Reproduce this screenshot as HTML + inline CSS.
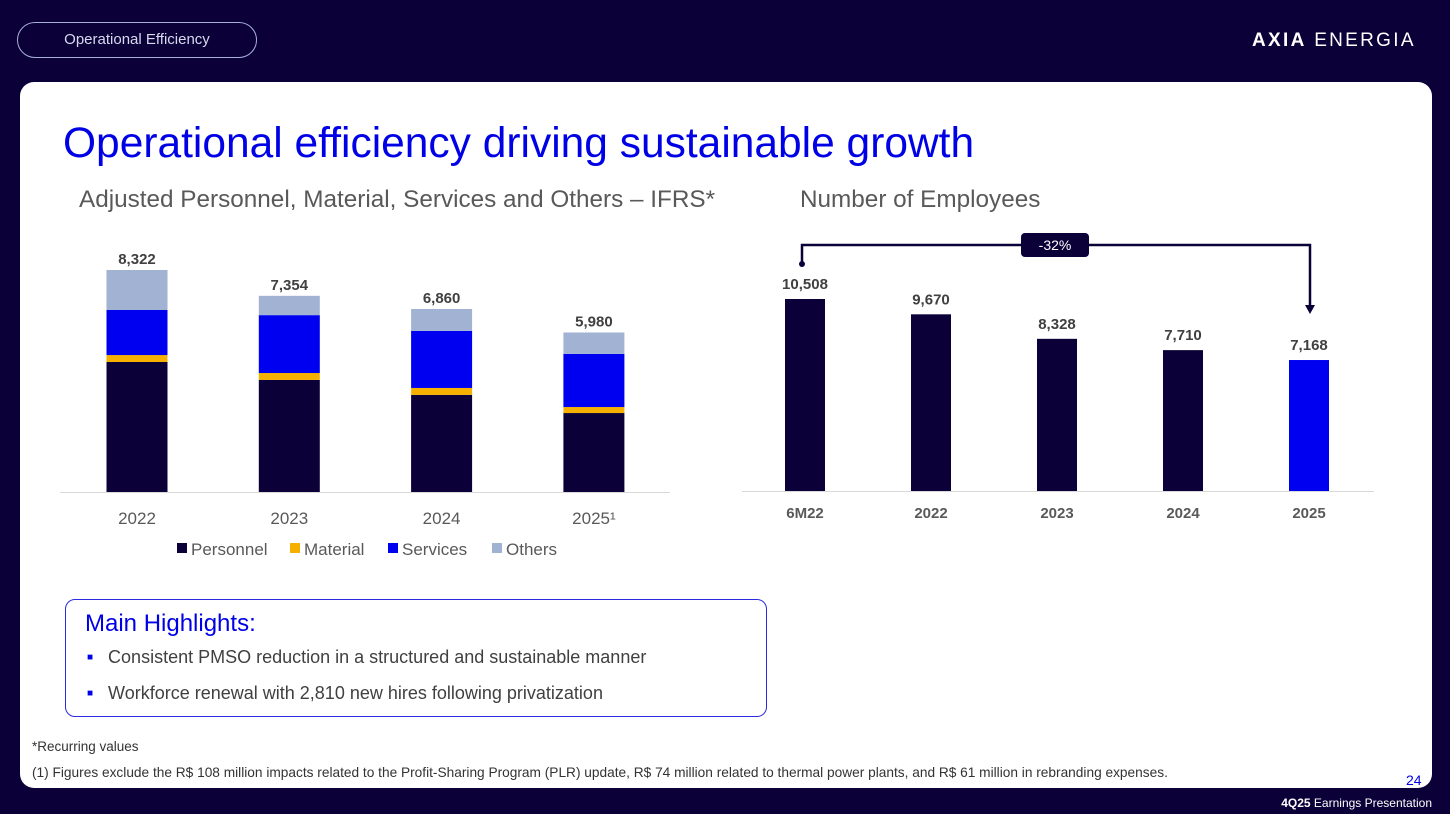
<!DOCTYPE html>
<html><head><meta charset="utf-8"><style>
body{margin:0;width:1450px;height:814px;background:#0b0037;font-family:"Liberation Sans",sans-serif;position:relative;overflow:hidden}
.abs{position:absolute;white-space:nowrap}
</style></head><body>
<div class="abs" style="left:17px;top:22px;width:238px;height:34px;border:1.5px solid #a8b0d8;border-radius:18px;color:#d6d9ef;font-size:15px;line-height:34px;text-align:center">Operational Efficiency</div>
<div class="abs" style="left:1252px;top:30px;color:#fff;font-size:19px;letter-spacing:2.3px"><b>AXIA</b> ENERGIA</div>
<div class="abs" style="left:20px;top:82px;width:1412px;height:706px;background:#fff;border-radius:14px"></div>
<div class="abs" style="left:63px;top:120px;color:#0000e6;font-size:42.5px">Operational efficiency driving sustainable growth</div>
<div class="abs" style="left:79px;top:186px;color:#595959;font-size:24.3px">Adjusted Personnel, Material, Services and Others – IFRS*</div>
<div class="abs" style="left:800px;top:186px;color:#595959;font-size:24.3px">Number of Employees</div>
<svg class="abs" style="left:0;top:0" width="1450" height="814" id="svg"></svg>
<div class="abs" style="left:65px;top:599px;width:700px;height:116px;border:1.5px solid #2a2ae0;border-radius:10px"></div>
<div class="abs" style="left:85px;top:610px;color:#0000e6;font-size:24px">Main Highlights:</div>
<div class="abs" style="left:87px;top:647px;color:#404040;font-size:18px"><span style="color:#0000e6;font-size:10px;vertical-align:3px">■</span>&nbsp;&nbsp;&nbsp;Consistent PMSO reduction in a structured and sustainable manner</div>
<div class="abs" style="left:87px;top:683px;color:#404040;font-size:18px"><span style="color:#0000e6;font-size:10px;vertical-align:3px">■</span>&nbsp;&nbsp;&nbsp;Workforce renewal with 2,810 new hires following privatization</div>
<div class="abs" style="left:32px;top:739px;color:#333;font-size:13.5px">*Recurring values</div>
<div class="abs" style="left:32px;top:765px;color:#333;font-size:13.7px">(1) Figures exclude the R$ 108 million impacts related to the Profit-Sharing Program (PLR) update, R$ 74 million related to thermal power plants, and R$ 61 million in rebranding expenses.</div>
<div class="abs" style="left:1406px;top:772px;color:#0000e6;font-size:14px">24</div>
<div class="abs" style="right:18px;top:796px;color:#fff;font-size:12px"><b>4Q25</b> Earnings Presentation</div>
<script>
const years=["2022","2023","2024","2025¹"];
const personnel=[4873,4200,3640,2960];
const material=[260,260,260,225];
const services=[1690,2170,2140,1990];
const others=[1499,724,820,805];
const totals=["8,322","7,354","6,860","5,980"];
const empCats=["6M22","2022","2023","2024","2025"];
const empVals=[10508,9670,8328,7710,7168];
const empLabels=["10,508","9,670","8,328","7,710","7,168"];
const NS="http://www.w3.org/2000/svg",svg=document.getElementById('svg');
function el(t,a,txt){const e=document.createElementNS(NS,t);for(const k in a)e.setAttribute(k,a[k]);if(txt!=null)e.textContent=txt;svg.appendChild(e);return e;}
const lBase=492,lScale=222/8322,lx=i=>137+i*152.3,lw=61;
let e=el('line',{x1:60,x2:670,y1:lBase+0.5,y2:lBase+0.5,stroke:'#d9d9d9'});

const series=[[personnel,'#0b0037','personnel'],[material,'#f5b000','material'],[services,'#0000f0','services'],[others,'#a2b2d2','others']];
years.forEach((y,i)=>{let acc=0;
 series.forEach(([arr,c,n])=>{const h=arr[i]*lScale;const r=el('rect',{x:lx(i)-lw/2,y:lBase-(acc+arr[i])*lScale,width:lw,height:h,fill:c});
  acc+=arr[i];});
 const t=el('text',{x:lx(i),y:lBase-acc*lScale-6,'text-anchor':'middle','font-size':15,'font-weight':'bold',fill:'#404040'},totals[i]);
 
 const xl=el('text',{x:lx(i),y:524,'text-anchor':'middle','font-size':17,fill:'#595959'},y);
 });
const leg=[['Personnel','#0b0037',177],['Material','#f5b000',290],['Services','#0000f0',388],['Others','#a2b2d2',492]];
leg.forEach(([n,c,x])=>{const r=el('rect',{x:x,y:543,width:10,height:10,fill:c});
 const t=el('text',{x:x+14,y:555,'font-size':17,fill:'#595959'},n);});
const rBase=491,rScale=192/10508,rx=i=>805+i*126,rw=40;
e=el('line',{x1:742,x2:1374,y1:rBase+0.5,y2:rBase+0.5,stroke:'#d9d9d9'});

empCats.forEach((c,i)=>{const h=empVals[i]*rScale;
 const r=el('rect',{x:rx(i)-rw/2,y:rBase-h,width:rw,height:h,fill:i==4?'#0000f0':'#0b0037'});
 
 const t=el('text',{x:rx(i),y:rBase-h-10,'text-anchor':'middle','font-size':15,'font-weight':'bold',fill:'#404040'},empLabels[i]);
 
 const xl=el('text',{x:rx(i),y:518,'text-anchor':'middle','font-size':15,'font-weight':'bold',fill:'#595959'},c);
 });
e=el('path',{d:'M802 264 V245 H1310 V306',fill:'none',stroke:'#0b0037','stroke-width':2.5});

e=el('circle',{cx:802,cy:264,r:3,fill:'#0b0037'});
e=el('path',{d:'M1305 305 L1315 305 L1310 314 Z',fill:'#0b0037'});
e=el('rect',{x:1021,y:233,width:68,height:24,rx:4,fill:'#0b0037'});
e=el('text',{x:1055,y:250,'text-anchor':'middle','font-size':14,fill:'#fff'},'-32%');
</script>
</body></html>
